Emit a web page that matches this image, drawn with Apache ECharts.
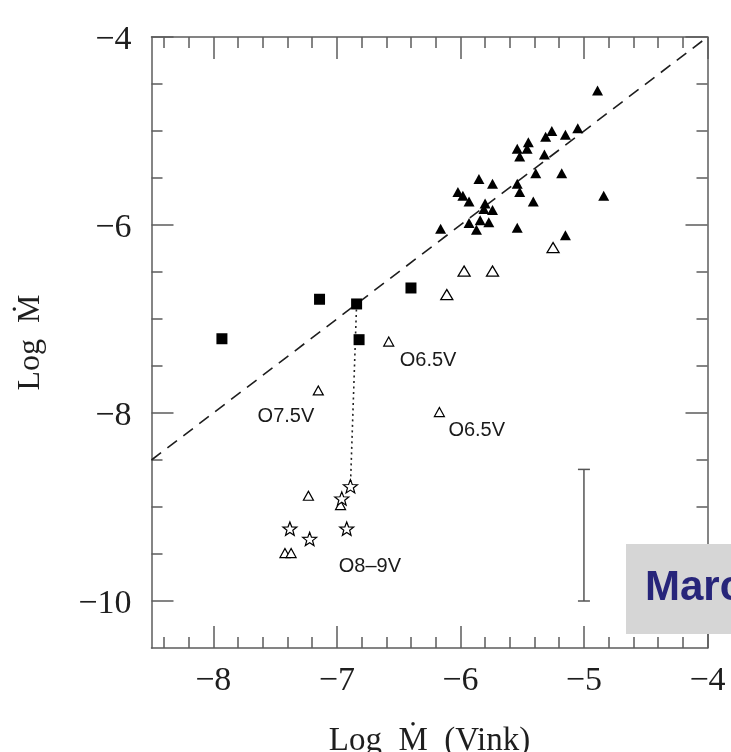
<!DOCTYPE html>
<html>
<head>
<meta charset="utf-8">
<script src="https://cdn.jsdelivr.net/npm/echarts@6/dist/echarts.min.js"></script>
<style>
  html, body { margin: 0; padding: 0; background: #ffffff; }
  #chart { width: 731px; height: 752px; }
</style>
</head>
<body>
<div id="chart"></div>
<script>
// Axis ranges and tick positions
const xRange = [-8.5, -4];
const yRange = [-10.5, -4];
const xMajor = [-8, -7, -6, -5, -4];
const xMinor = [-8.4, -8.2, -7.8, -7.6, -7.4, -7.2, -6.8, -6.6, -6.4, -6.2,
                -5.8, -5.6, -5.4, -5.2, -4.8, -4.6, -4.4, -4.2];
const yMajor = [-10, -8, -6, -4];
const yMinor = [-9.5, -9, -8.5, -7.5, -7, -6.5, -5.5, -5, -4.5];

// Filled triangles
const filledTriX = [-4.89, -5.26, -5.31, -5.05, -5.15, -5.45, -5.46, -5.54, -5.52, -5.32,
                    -5.39, -5.18, -5.85, -5.74, -5.54, -5.52, -6.02, -5.98, -5.93, -5.41,
                    -4.84, -5.80, -5.81, -5.74, -5.84, -5.93, -5.77, -5.87, -6.16, -5.54, -5.15];
const filledTriY = [-4.57, -5.00, -5.06, -4.97, -5.04, -5.12, -5.19, -5.19, -5.27, -5.25,
                    -5.45, -5.45, -5.51, -5.56, -5.56, -5.65, -5.65, -5.69, -5.75, -5.75,
                    -5.69, -5.77, -5.83, -5.84, -5.95, -5.98, -5.97, -6.05, -6.04, -6.03, -6.11];

// Open triangles (upper group)
const openTriX = [-5.25, -5.97, -5.74, -6.11];
const openTriY = [-6.24, -6.49, -6.49, -6.74];

// Open triangles (lower group, some with spectral types)
const openSmallX = [-6.58, -7.15, -6.17, -7.23, -6.97, -7.42, -7.37];
const openSmallY = [-7.24, -7.76, -7.99, -8.88, -8.98, -9.49, -9.49];
const openSmallTag = ['O6.5V', 'O7.5V', 'O6.5V', '', '', '', ''];

// Filled squares
const squareX = [-7.93, -7.14, -6.84, -6.82, -6.40];
const squareY = [-7.21, -6.79, -6.84, -7.22, -6.67];

// Open stars
const starX = [-6.89, -6.96, -7.38, -6.92, -7.22];
const starY = [-8.78, -8.91, -9.23, -9.23, -9.34];
const starTag = ['', '', '', 'O8\u20139V', ''];

// One-to-one relation and the dotted link between two estimates of the same star
const oneToOne = [-8.5, -4];
const linkX = [-6.84, -6.89];
const linkY = [-6.84, -8.78];

// Typical error bar
const errX = [-5.0];
const errLow = [-10.0];
const errHigh = [-8.6];

// ---- styling ----
const frameLine = { color: '#5c5c5c', width: 1.5 };
const serif = 'Liberation Serif';
const sans = 'Liberation Sans';
const minus = v => (v < 0 ? '\u2212' : '') + Math.abs(v);

// label placement for annotated points (pixel offsets from the symbol centre)
const openSmallLabelStyle = [
  { align: 'left', offset: [11, 19] },
  { align: 'right', offset: [-4, 26] },
  { align: 'left', offset: [9, 18] },
  null, null, null, null
];
const starLabelStyle = [null, null, null, { align: 'left', offset: [-8, 38] }, null];

const annot = (tag, st) => tag && st ? {
  show: true, formatter: tag, position: 'inside', align: st.align, verticalAlign: 'middle',
  offset: st.offset, fontFamily: sans, fontSize: 20, color: '#1a1a1a'
} : { show: false };

const starPath = 'path://M50 0 L62.34 33.01 L97.55 34.55 L69.97 56.49 L79.39 90.45 L50 71 ' +
                 'L20.61 90.45 L30.03 56.49 L2.45 34.55 L37.66 33.01 Z';

function xAxisOf(position, ticks, len, showLine, extra) {
  return Object.assign({
    type: 'value', position, min: xRange[0], max: xRange[1],
    axisLine: { show: showLine, onZero: false, lineStyle: frameLine },
    axisTick: { show: true, inside: true, length: len, customValues: ticks, lineStyle: frameLine },
    axisLabel: { show: false },
    splitLine: { show: false }
  }, extra || {});
}
function yAxisOf(position, ticks, len, showLine, extra) {
  return Object.assign({
    type: 'value', position, min: yRange[0], max: yRange[1],
    axisLine: { show: showLine, onZero: false, lineStyle: frameLine },
    axisTick: { show: true, inside: true, length: len, customValues: ticks, lineStyle: frameLine },
    axisLabel: { show: false },
    splitLine: { show: false }
  }, extra || {});
}

const chart = echarts.init(document.getElementById('chart'), null, { renderer: 'canvas' });

chart.setOption({
  backgroundColor: '#ffffff',
  animation: false,
  grid: { left: 151.5, right: 23.5, top: 37, bottom: 104, containLabel: false, outerBoundsMode: 'none' },
  xAxis: [
    xAxisOf('bottom', xMajor, 22, true, {
      axisLabel: {
        show: true, customValues: xMajor, formatter: minus, margin: 16,
        fontFamily: serif, fontSize: 34, color: '#1e1e1e'
      },
      name: 'Log  \u1E40  (Vink)', nameLocation: 'middle', nameGap: 77,
      nameTextStyle: { fontFamily: serif, fontSize: 33, color: '#1e1e1e' }
    }),
    xAxisOf('bottom', xMinor, 11, false),
    xAxisOf('top', xMajor, 22, true),
    xAxisOf('top', xMinor, 11, false)
  ],
  yAxis: [
    yAxisOf('left', yMajor, 22, true, {
      axisLabel: {
        show: true, customValues: yMajor, margin: 20,
        formatter: v => '{t|' + minus(v) + '}',
        rich: { t: { fontFamily: serif, fontSize: 34, color: '#1e1e1e', padding: [7, 0, 0, 0] } }
      },
      name: 'Log  \u1E40', nameLocation: 'middle', nameGap: 105, nameRotate: 90,
      nameTextStyle: { fontFamily: serif, fontSize: 32, color: '#1e1e1e' }
    }),
    yAxisOf('left', yMinor, 11, false),
    yAxisOf('right', yMajor, 22, true),
    yAxisOf('right', yMinor, 11, false)
  ],
  series: [
    {
      name: 'one-to-one', type: 'line', silent: true, z: 1,
      data: [[oneToOne[0], oneToOne[0]], [oneToOne[1], oneToOne[1]]],
      symbol: 'none',
      lineStyle: { color: '#1e1e1e', width: 1.6, type: [12, 8] }
    },
    {
      name: 'link', type: 'line', silent: true, z: 1,
      data: linkX.map((x, i) => [x, linkY[i]]),
      symbol: 'none',
      lineStyle: { color: '#222', width: 1.6, type: [2, 3.5] }
    },
    {
      name: 'error', type: 'custom', z: 2,
      data: errX.map((x, i) => [x, errLow[i], errHigh[i]]),
      renderItem: function (params, api) {
        const lo = api.coord([api.value(0), api.value(1)]);
        const hi = api.coord([api.value(0), api.value(2)]);
        const cap = 6;
        const st = { stroke: '#555', lineWidth: 1.5 };
        return {
          type: 'group',
          children: [
            { type: 'line', shape: { x1: lo[0], y1: lo[1], x2: hi[0], y2: hi[1] }, style: st },
            { type: 'line', shape: { x1: lo[0] - cap, y1: lo[1], x2: lo[0] + cap, y2: lo[1] }, style: st },
            { type: 'line', shape: { x1: hi[0] - cap, y1: hi[1], x2: hi[0] + cap, y2: hi[1] }, style: st }
          ]
        };
      }
    },
    {
      name: 'filled triangles', type: 'scatter', z: 3,
      symbol: 'triangle', symbolSize: [11, 10],
      itemStyle: { color: '#000', opacity: 1 },
      data: filledTriX.map((x, i) => [x, filledTriY[i]])
    },
    {
      name: 'open triangles', type: 'scatter', z: 3,
      symbol: 'triangle', symbolSize: [12, 10],
      itemStyle: { color: '#fff', borderColor: '#000', borderWidth: 1.3, opacity: 1 },
      data: openTriX.map((x, i) => [x, openTriY[i]])
    },
    {
      name: 'open triangles (typed)', type: 'scatter', z: 3,
      symbol: 'triangle', symbolSize: [10, 9],
      itemStyle: { color: '#fff', borderColor: '#000', borderWidth: 1.2, opacity: 1 },
      data: openSmallX.map((x, i) => ({
        value: [x, openSmallY[i]],
        label: annot(openSmallTag[i], openSmallLabelStyle[i])
      }))
    },
    {
      name: 'squares', type: 'scatter', z: 3,
      symbol: 'rect', symbolSize: 11,
      itemStyle: { color: '#000', opacity: 1 },
      data: squareX.map((x, i) => [x, squareY[i]])
    },
    {
      name: 'stars', type: 'scatter', z: 4,
      symbol: starPath, symbolSize: 14, symbolKeepAspect: true,
      itemStyle: { color: '#fff', borderColor: '#000', borderWidth: 1.2, opacity: 1 },
      data: starX.map((x, i) => ({
        value: [x, starY[i]],
        label: annot(starTag[i], starLabelStyle[i])
      }))
    }
  ],
  graphic: [
    {
      type: 'rect', z: 100,
      shape: { x: 626, y: 544, width: 110, height: 90 },
      style: { fill: '#d6d6d6' }
    },
    {
      type: 'text', z: 101,
      style: {
        x: 645, y: 588, text: 'Marc', verticalAlign: 'middle',
        font: 'bold 42px "Liberation Sans"', fill: '#27257a'
      }
    }
  ]
});
</script>
</body>
</html>
